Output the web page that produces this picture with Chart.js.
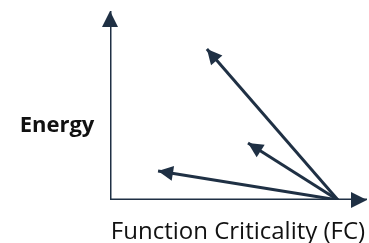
<!DOCTYPE html>
<html>
<head>
<meta charset="utf-8">
<script src="https://cdn.jsdelivr.net/npm/chart.js@4.4.0/dist/chart.umd.min.js"></script>
<style>
  html, body { margin: 0; padding: 0; background: #fff; }
  #wrap { width: 369px; height: 243px; }
</style>
</head>
<body>
<div id="wrap"><canvas id="myChart"></canvas></div>
<script>
// data: each vector starts at the common origin and points to its tip
const origin = { x: 88.7, y: 0 };
const tipX = [37.7, 53.7, 18.7];
const tipY = [79.9, 30.2, 15.3];
const xLabel = 'Function Criticality (FC)';
const yLabel = 'Energy';

const ink = '#1f3044';

const datasets = tipX.map((x, i) => ({
    data: [origin, { x: x, y: tipY[i] }],
    showLine: true,
    borderColor: ink,
    borderWidth: 3,
    pointRadius: 0,
    arrow: true
}));
// axes as datasets too
datasets.push({ data: [{ x: 0, y: 0 }, { x: 0, y: 100 }], showLine: true, borderColor: ink, borderWidth: 3, pointRadius: 0, arrow: true, head: 16 });
datasets.push({ data: [{ x: 0, y: 0 }, { x: 100, y: 0 }], showLine: true, borderColor: ink, borderWidth: 3, pointRadius: 0, arrow: true, head: 16 });

const arrowHeads = {
    id: 'arrowHeads',
    afterDatasetsDraw(chart) {
        const ctx = chart.ctx;
        const xs = chart.scales.x, ys = chart.scales.y;
        chart.data.datasets.forEach(ds => {
            if (!ds.arrow) return;
            const a = ds.data[0], b = ds.data[ds.data.length - 1];
            const x1 = xs.getPixelForValue(a.x), y1 = ys.getPixelForValue(a.y);
            const x2 = xs.getPixelForValue(b.x), y2 = ys.getPixelForValue(b.y);
            const ang = Math.atan2(y2 - y1, x2 - x1);
            const len = ds.head || 15, half = len / 2;
            ctx.save();
            ctx.translate(x2, y2);
            ctx.rotate(ang);
            ctx.fillStyle = ink;
            ctx.beginPath();
            ctx.moveTo(0, 0);
            ctx.lineTo(-len, -half);
            ctx.lineTo(-len, half);
            ctx.closePath();
            ctx.fill();
            ctx.restore();
        });
        ctx.save();
        ctx.fillStyle = '#111';
        ctx.textAlign = 'center';
        ctx.textBaseline = 'middle';
        ctx.font = 'bold 22px "Open Sans"';
        ctx.fillText(yLabel, 57, 126);
        ctx.font = '24px "Open Sans"';
        ctx.fillText(xLabel, 238, 232);
        ctx.restore();
    }
};

const ctx = document.getElementById('myChart').getContext('2d');
const myChart = new Chart(ctx, {
    type: 'scatter',
    data: { datasets: datasets },
    options: {
        responsive: true,
        maintainAspectRatio: false,
        animation: false,
        layout: { padding: { left: 110, right: 2, top: 11, bottom: 43 } },
        plugins: { legend: { display: false }, tooltip: { enabled: false } },
        scales: {
            x: { display: false, min: 0, max: 100 },
            y: { display: false, min: 0, max: 100 }
        }
    },
    plugins: [arrowHeads]
});
</script>
</body>
</html>
